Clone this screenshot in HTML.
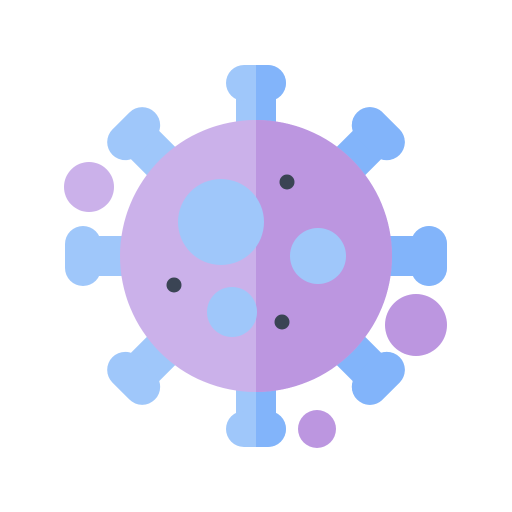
<!DOCTYPE html>
<html><head><meta charset="utf-8"><style>html,body{margin:0;padding:0;background:#fff}svg{display:block}</style></head>
<body>
<svg width="512" height="512" viewBox="0 0 512 512">
<defs>
<clipPath id="right"><rect x="256" y="0" width="256" height="512"/></clipPath>
<g id="spike">
<rect x="-20" y="-168" width="40" height="45"/>
<rect x="-30" y="-191" width="60" height="36" rx="18"/>
</g>
</defs>
<g fill="#9FC7FA">
<use href="#spike" transform="translate(256 256) rotate(0)"/>
<use href="#spike" transform="translate(256 256) rotate(45)"/>
<use href="#spike" transform="translate(256 256) rotate(90)"/>
<use href="#spike" transform="translate(256 256) rotate(135)"/>
<use href="#spike" transform="translate(256 256) rotate(180)"/>
<use href="#spike" transform="translate(256 256) rotate(225)"/>
<use href="#spike" transform="translate(256 256) rotate(270)"/>
<use href="#spike" transform="translate(256 256) rotate(315)"/>
</g>
<g fill="#82B4FA" clip-path="url(#right)">
<use href="#spike" transform="translate(256 256) rotate(0)"/>
<use href="#spike" transform="translate(256 256) rotate(45)"/>
<use href="#spike" transform="translate(256 256) rotate(90)"/>
<use href="#spike" transform="translate(256 256) rotate(135)"/>
<use href="#spike" transform="translate(256 256) rotate(180)"/>
</g>
<circle cx="256" cy="256" r="136" fill="#CBB1EA"/>
<circle cx="256" cy="256" r="136" fill="#BC96E0" clip-path="url(#right)"/>
<circle cx="221" cy="222" r="43" fill="#9FC7FA"/>
<circle cx="318" cy="256" r="28" fill="#9FC7FA"/>
<circle cx="232" cy="312" r="25" fill="#9FC7FA"/>
<circle cx="287" cy="182" r="7.5" fill="#3A4454"/>
<circle cx="174" cy="285" r="7.5" fill="#3A4454"/>
<circle cx="282" cy="322" r="7.5" fill="#3A4454"/>
<circle cx="89" cy="187" r="25" fill="#CBB1EA"/>
<circle cx="416" cy="325" r="31" fill="#BC96E0"/>
<circle cx="317" cy="429" r="19" fill="#BC96E0"/>
</svg>
</body></html>
